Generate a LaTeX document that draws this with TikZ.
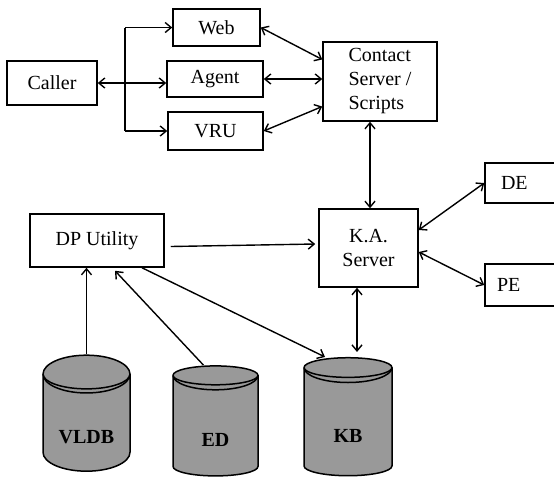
\documentclass[tikz,border=0pt]{standalone}
\usepackage{fontspec}
\setmainfont{Liberation Serif}
\usetikzlibrary{arrows.meta,calc,positioning,shapes.geometric}
\tikzset{
  caja/.style={
    draw=black,
    line width=1.5pt,
    fill=white,
    align=center,
    inner sep=2pt,
    font=\fontsize{20}{24}\selectfont
  },
  cilindro/.style={
    cylinder,
    shape border rotate=90,
    aspect=0.68,
    draw=black,
    line width=1.5pt,
    fill=black!40,
    inner sep=0pt,
    text height=40pt,
    text depth=0pt,
    font=\bfseries\fontsize{20}{24}\selectfont
  },
  flecha/.style={
    -{Straight Barb[length=6pt,width=10pt]},
    line width=1.4pt
  },
  doble/.style={
    {Straight Barb[length=6pt,width=10pt]}-{Straight Barb[length=6pt,width=10pt]},
    line width=1.4pt
  }
}

\begin{document}
\begin{tikzpicture}[x=1pt,y=-1pt]
\useasboundingbox (0,0) rectangle (554,483);
\node[caja, minimum width=90pt, minimum height=44pt] (caller) at (52,83) {Caller};
\node[caja, minimum width=87pt, minimum height=37pt] (web) at (216.5,27.5) {Web};
\node[caja, minimum width=96pt, minimum height=36pt] (agent) at (215,79) {Agent};
\node[caja, minimum width=95pt, minimum height=38pt] (vru) at (215.5,131) {VRU};
\node[caja, minimum width=114pt, minimum height=79pt, align=left] (contact) at (380,81.5) {Contact\\Server /\\Scripts};
\node[caja, minimum width=99pt, minimum height=78pt] (ka) at (368.5,248) {K.A.\\Server};
\node[caja, minimum width=72pt, minimum height=40pt, text width=40pt, align=left] (de) at (521,183) {DE};
\node[caja, minimum width=72pt, minimum height=42pt, text width=48pt, align=left] (pe) at (521,285) {PE};
\node[caja, minimum width=134pt, minimum height=53pt] (dp) at (97,240.5) {DP Utility};
% bases de datos
\node[cilindro, minimum width=87pt, minimum height=116pt] (vldb) at (86.5,423) {VLDB};
\node[cilindro, minimum width=85pt, minimum height=110pt] (ed) at (215.5,426) {ED};
\node[cilindro, minimum width=88pt, minimum height=118pt] (kb) at (348,422) {KB};
\foreach \c/\r in {vldb/43.5,ed/42.5,kb/44}
  \draw[line width=1.5pt] ($(\c.before top)!0.5!(\c.after top)$) ++(-\r pt,0)
    arc[start angle=180, end angle=360, x radius=\r pt, y radius={0.34*\r pt}];
% llamadas
\coordinate (tronco) at (125,83);
\draw[doble] (caller.east) -- (caller.east -| agent.west);
\draw[line width=1.4pt] (tronco |- web.west) -- (tronco |- vru.west);
\draw[flecha] (tronco |- web.west) -- (web.west);
\draw[flecha] (tronco |- vru.west) -- (vru.west);
\draw[doble] (web.east) -- ($(contact.west)+(0,-22)$);
\draw[doble] (agent.east) -- (agent.east -| contact.west);
\draw[doble] (vru.east) -- ($(contact.west)+(0,25)$);
% servidor
\coordinate (ck) at (370,0);
\coordinate (kk) at (357,0);
\draw[doble] (ck |- contact.south) -- (ck |- ka.north);
\draw[doble] (kk |- ka.south) -- ($(kk |- kb.north)+(0,-5)$);
\draw[doble] ($(ka.east)+(0,-18)$) -- (de.west);
\draw[doble] ($(ka.east)+(0,4)$) -- (pe.west);
\draw[flecha] ($(dp.east)+(6,6)$) -- ($(ka.west)+(-3,-4)$);
\draw[flecha] (vldb.north) -- (vldb.north |- dp.south);
\draw[flecha] ($(ed.north)+(-12,0)$) -- ($(dp.south)+(18,3)$);
\draw[flecha] ($(dp.south)+(45,0)$) -- ($(kb.north)+(-23,0)$);
\end{tikzpicture}
\end{document}
